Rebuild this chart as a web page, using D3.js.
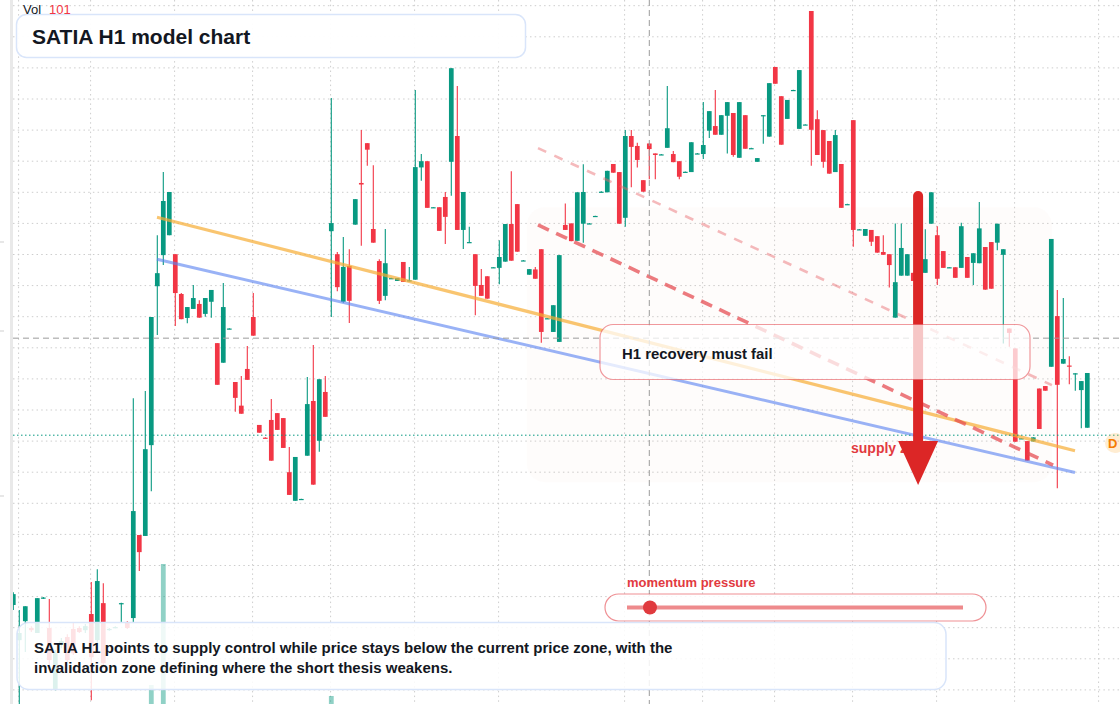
<!DOCTYPE html>
<html>
<head>
<meta charset="utf-8">
<script src="https://cdn.jsdelivr.net/npm/d3@7"></script>
<style>
  html, body { margin: 0; padding: 0; background: #fff; overflow: hidden; }
  svg { display: block; font-family: "Liberation Sans", Arial, sans-serif; }
</style>
</head>
<body>
<svg id="chart" width="1120" height="704"></svg>
<script>
// H1 candles (price units, 1 grid step = 1.00)
const opens = [90.73,89.60,90.21,89.99,89.83,90.94,89.99,88.03,89.44,89.70,89.96,89.99,89.92,90.44,89.60,90.79,89.94,90.00,90.76,90.18,
  90.31,92.98,92.95,95.87,100.98,101.98,102.62,102.01,100.73,99.96,100.25,100.41,100.09,100.48,99.15,98.52,99.61,97.90,97.14,98.32,
  99.99,96.52,96.11,96.68,96.90,96.74,95.00,94.08,94.13,95.53,97.29,96.01,97.58,102.75,102.01,100.48,101.63,102.96,104.30,105.58,
  102.82,101.79,100.67,101.23,101.15,101.76,101.15,101.19,104.80,105.00,103.51,103.52,103.85,104.98,105.81,102.79,102.38,102.01,101.02,101.30,
  101.58,101.57,101.77,102.98,103.62,101.80,101.35,101.52,102.17,99.94,99.51,99.19,102.95,103.00,102.44,102.99,102.99,103.23,104.01,104.00,
  104.91,104.65,103.18,105.81,105.49,104.39,105.57,105.25,105.21,105.43,105.23,105.00,104.65,104.65,105.24,105.23,105.98,106.13,105.85,106.46,
  106.55,105.11,106.48,105.41,104.98,106.45,105.79,108.03,107.09,106.36,107.28,106.04,106.17,109.83,106.35,106.00,105.65,104.65,104.91,103.61,
  106.32,102.80,102.60,102.79,102.59,102.08,102.01,99.97,101.32,101.32,101.41,101.63,101.41,102.99,102.62,102.11,101.58,101.59,101.57,101.92,
  101.73,101.72,102.24,102.40,102.38,101.99,99.62,98.98,96.08,96.00,95.99,97.69,97.77,98.39,100.02,98.49,98.43,98.17,97.64,96.43];
const highs = [91.14,90.57,90.69,90.05,90.95,90.99,90.92,89.28,89.67,89.79,90.15,90.05,90.12,91.47,91.88,91.43,89.99,90.05,90.80,90.21,
  97.38,92.98,97.61,99.99,102.62,104.65,104.01,102.01,100.76,100.31,101.02,100.53,100.60,100.86,99.15,101.08,99.63,97.90,98.09,99.06,
  100.76,96.52,96.12,97.35,96.90,96.74,95.81,95.49,94.15,98.06,99.09,97.99,98.09,107.03,102.08,102.56,102.17,103.78,106.00,105.58,
  104.87,101.85,102.82,101.25,101.24,101.76,101.60,107.29,105.23,105.00,103.53,103.52,104.01,107.99,107.42,104.01,102.89,102.01,101.53,101.30,
  101.60,102.46,102.98,104.68,103.62,101.82,101.53,101.60,102.17,99.96,100.37,101.98,103.64,103.00,104.00,104.90,103.01,103.25,104.03,104.69,
  104.91,104.65,106.00,106.00,105.59,104.39,105.57,105.25,105.23,107.42,105.33,105.00,104.67,105.61,105.26,106.90,106.61,107.29,106.48,106.90,
  106.55,106.90,106.48,105.43,105.10,106.48,107.51,108.03,107.09,106.97,107.30,107.93,106.19,109.83,106.64,106.00,105.65,106.00,104.91,103.63,
  106.32,102.82,102.82,102.79,102.59,102.62,102.01,103.00,103.00,102.01,101.41,101.70,102.81,104.00,102.91,102.11,101.60,101.59,103.02,101.92,
  102.04,103.69,102.24,102.40,102.99,102.17,99.62,98.98,96.10,96.00,96.12,97.69,97.77,102.50,100.86,100.60,98.73,98.18,97.93,98.19];
const lows = [90.57,87.29,89.22,89.86,89.83,90.92,88.80,87.99,89.34,88.90,89.12,89.83,89.83,87.67,89.44,88.70,89.90,89.98,90.18,89.96,
  90.18,91.82,92.95,94.39,99.41,101.66,102.62,99.70,99.92,99.79,100.25,99.97,100.00,99.97,97.81,98.52,99.60,96.94,96.88,97.97,
  99.39,96.27,96.09,95.37,96.36,95.78,94.27,94.08,94.12,95.53,94.60,95.66,96.78,99.99,100.82,100.45,99.80,102.96,102.28,104.85,
  102.38,100.41,100.53,101.22,101.15,101.12,101.14,101.19,104.37,103.50,103.50,102.76,102.34,103.89,102.79,102.18,102.38,100.05,100.67,100.58,
  101.57,101.04,101.77,101.80,102.09,101.79,101.35,101.22,99.16,99.93,99.51,99.19,102.79,102.43,102.44,102.38,102.98,103.22,104.00,104.00,
  104.63,102.99,102.89,104.16,104.80,104.02,104.42,104.42,105.20,105.43,104.97,104.42,104.64,104.65,105.23,105.07,105.75,105.85,105.85,105.25,
  105.14,105.11,105.40,105.40,104.98,105.56,105.79,107.49,105.53,106.36,107.27,106.04,106.16,104.85,105.20,104.79,104.60,104.65,103.50,103.60,
  102.25,102.79,102.60,102.27,102.06,101.99,100.94,99.97,101.32,101.32,101.15,101.30,101.41,102.99,101.02,101.57,101.57,101.25,101.57,101.25,
  101.02,101.72,100.87,100.90,102.14,99.14,99.03,95.98,96.07,95.37,95.99,96.39,97.62,98.39,94.48,98.49,97.83,97.62,96.41,96.43];
const closes = [91.08,89.83,90.69,89.92,90.95,90.97,88.96,89.18,89.57,88.96,89.18,89.86,90.05,89.05,91.50,88.86,89.96,90.02,90.79,89.99,
  93.75,92.43,95.74,99.99,101.40,103.72,104.01,100.76,99.92,100.31,100.60,99.97,100.60,100.86,97.81,100.31,99.62,97.39,96.88,97.97,
  99.39,96.27,96.10,95.37,96.36,95.78,94.27,95.49,94.14,97.19,94.60,97.99,96.78,103.01,100.95,101.60,100.51,103.78,104.25,105.37,
  102.38,100.51,101.72,101.24,101.24,101.12,101.17,104.81,105.00,103.50,103.52,102.76,103.21,107.99,102.79,104.01,102.40,100.99,100.67,100.58,
  101.59,101.92,102.98,101.80,102.09,101.81,101.53,101.22,99.51,99.95,100.37,101.98,102.79,102.43,104.00,104.01,103.00,103.24,104.02,104.69,
  104.63,102.99,105.81,105.46,105.04,104.02,105.39,105.20,105.22,106.06,104.97,104.50,104.66,105.61,105.25,105.52,106.61,105.85,106.48,106.90,
  105.20,106.90,105.40,105.42,105.10,106.48,107.51,107.49,105.53,106.97,107.29,107.93,106.18,106.01,105.20,104.98,104.60,105.84,103.50,103.62,
  102.79,102.81,102.82,102.41,102.06,101.99,101.66,101.11,102.21,102.01,101.15,101.37,101.85,104.00,101.22,101.57,101.59,101.25,102.91,101.25,
  102.04,102.84,100.87,100.90,102.99,102.17,99.48,95.98,96.09,95.37,96.12,96.39,97.62,102.50,97.81,98.64,98.40,98.18,97.93,98.19];
const volumes = [60,45,80,30,70,25,90,55,35,40,50,30,35,110,120,95,30,25,45,40,
  150,90,140,350,130,1560,120,110,70,50,60,45,40,55,90,100,30,60,55,50,
  70,40,25,80,45,60,75,70,20,90,120,80,60,240,70,85,95,60,110,40,
  70,75,90,25,30,40,35,150,50,65,20,50,60,140,130,70,35,60,45,50,
  20,55,70,90,80,20,30,35,110,25,50,100,40,45,70,75,20,20,25,45,
  35,70,110,60,45,40,50,35,20,85,35,45,20,60,20,70,55,75,50,65,
  70,90,60,20,25,45,95,50,80,45,20,95,25,150,70,60,65,70,80,25,
  130,20,30,35,45,30,55,80,60,50,40,45,60,75,70,50,20,40,75,55,
  50,85,80,85,45,95,40,120,20,55,25,75,30,140,150,60,40,45,70,101];

// grid: price levels and session-start bars
const gridPrices = [88,89,90,91,92,93,94,95,96,97,98,99,100,101,102,103,104,105,106,107,108,109,110];
const sessionBars = [1,13,27,40,53,67,81,102,115,127,140,154,167,181];

// drawings (bar index, price)
const channelUpper = [[23.95, 103.20], [176.95, 95.69]];
const channelLower = [[23.95, 101.85], [176.95, 94.99]];
const rejectionFaint = [[87.45, 105.42], [173.1, 97.80]];
const rejectionMain = [[87.45, 102.95], [173.3, 95.23]];
const supplyZone = { from: 85.6, to: 173.1, top: 103.52, bottom: 94.68 };
const supplyArrow = { bar: 150.8, from: 103.88, neck: 96.00, tip: 94.59 };
const crosshair = { bar: 106, price: 99.31 };
const lastPriceLine = 96.19;
const lastVolume = 101;

const UP = '#089981';
const DOWN = '#f23645';

const svg = d3.select('#chart');
const width = 1120;
const height = 704;
const paneLeft = 13;

const candles = opens.map((o, i) => ({
  i, o, h: highs[i], l: lows[i], c: closes[i], v: volumes[i]
}));

const x = d3.scaleLinear().domain([0, 179]).range([13.3, 1087.3]);
const y = d3.scaleLinear().domain([88, 110]).range([689.9, 5.7]);
const vy = d3.scaleLinear().domain([0, 1560]).range([720, 564]);

svg.append('defs')
  .append('clipPath')
  .attr('id', 'pane')
  .append('rect')
  .attr('x', paneLeft)
  .attr('y', 0)
  .attr('width', width - paneLeft)
  .attr('height', height);

// left scale edge
svg.append('rect')
  .attr('x', 10).attr('y', 0)
  .attr('width', 3).attr('height', height)
  .attr('fill', '#e9e9e9');
svg.append('g')
  .selectAll('line')
  .data([242, 331, 496])
  .join('line')
  .attr('x1', 0).attr('x2', 4)
  .attr('y1', d => d).attr('y2', d => d)
  .attr('stroke', '#cfcfcf');

const pane = svg.append('g').attr('clip-path', 'url(#pane)');

// grid
pane.append('g')
  .selectAll('line')
  .data(gridPrices)
  .join('line')
  .attr('x1', paneLeft).attr('x2', width)
  .attr('y1', d => y(d)).attr('y2', d => y(d))
  .attr('stroke', '#cdcdcd')
  .attr('stroke-dasharray', '1.5,3.2');
pane.append('g')
  .selectAll('line')
  .data(sessionBars)
  .join('line')
  .attr('x1', d => x(d) - 0.7).attr('x2', d => x(d) - 0.7)
  .attr('y1', 0).attr('y2', height)
  .attr('stroke', '#cdcdcd')
  .attr('stroke-dasharray', '1.5,3.2');

// supply zone
pane.append('rect')
  .attr('x', x(supplyZone.from))
  .attr('y', y(supplyZone.top))
  .attr('width', x(supplyZone.to) - x(supplyZone.from))
  .attr('height', y(supplyZone.bottom) - y(supplyZone.top))
  .attr('rx', 18)
  .attr('fill', 'rgba(240, 200, 170, 0.05)');

// volume
pane.append('g')
  .selectAll('rect')
  .data(candles)
  .join('rect')
  .attr('x', d => x(d.i) - 2.4)
  .attr('width', 4.8)
  .attr('y', d => vy(d.v))
  .attr('height', d => vy(0) - vy(d.v))
  .attr('fill', d => (d.c >= d.o ? UP : DOWN))
  .attr('opacity', 0.45);

// candles
const candle = pane.append('g')
  .selectAll('g')
  .data(candles)
  .join('g')
  .attr('fill', d => (d.c >= d.o ? UP : DOWN))
  .attr('stroke', d => (d.c >= d.o ? UP : DOWN));
candle.append('line')
  .attr('x1', d => x(d.i)).attr('x2', d => x(d.i))
  .attr('y1', d => y(d.h)).attr('y2', d => y(d.l))
  .attr('stroke-width', 1.1);
candle.append('rect')
  .attr('x', d => x(d.i) - 2.35)
  .attr('width', 4.7)
  .attr('y', d => y(Math.max(d.o, d.c)))
  .attr('height', d => Math.max(1.2, Math.abs(y(d.o) - y(d.c))))
  .attr('stroke', 'none');

// trend drawings
const line = d3.line(d => x(d[0]), d => y(d[1]));
pane.append('path')
  .attr('d', line(channelUpper))
  .attr('fill', 'none')
  .attr('stroke', '#f6ac33')
  .attr('stroke-opacity', 0.7)
  .attr('stroke-width', 3.2);
pane.append('path')
  .attr('d', line(channelLower))
  .attr('fill', 'none')
  .attr('stroke', '#5b82f0')
  .attr('stroke-opacity', 0.62)
  .attr('stroke-width', 3);
pane.append('path')
  .attr('d', line(rejectionFaint))
  .attr('fill', 'none')
  .attr('stroke', '#e8676b')
  .attr('stroke-opacity', 0.45)
  .attr('stroke-width', 2.6)
  .attr('stroke-dasharray', '9,9');
pane.append('path')
  .attr('d', line(rejectionMain))
  .attr('fill', 'none')
  .attr('stroke', '#e5484d')
  .attr('stroke-opacity', 0.72)
  .attr('stroke-width', 3.6)
  .attr('stroke-dasharray', '12,8');

// crosshair and last price line
pane.append('line')
  .attr('x1', paneLeft).attr('x2', width)
  .attr('y1', y(crosshair.price)).attr('y2', y(crosshair.price))
  .attr('stroke', '#9b9b9b')
  .attr('stroke-dasharray', '6,4');
pane.append('line')
  .attr('x1', x(crosshair.bar)).attr('x2', x(crosshair.bar))
  .attr('y1', 0).attr('y2', height)
  .attr('stroke', '#9b9b9b')
  .attr('stroke-dasharray', '6,4');
pane.append('line')
  .attr('x1', paneLeft).attr('x2', width)
  .attr('y1', y(lastPriceLine)).attr('y2', y(lastPriceLine))
  .attr('stroke', UP)
  .attr('stroke-dasharray', '1.5,2.5');

// supply label and arrow
svg.append('text')
  .attr('x', 851).attr('y', y(lastPriceLine) + 18)
  .attr('fill', '#e23a3f')
  .attr('font-size', 14)
  .attr('font-weight', 700)
  .text('supply zone');
const ax = x(supplyArrow.bar);
svg.append('line')
  .attr('x1', ax).attr('x2', ax)
  .attr('y1', y(supplyArrow.from)).attr('y2', y(supplyArrow.neck) + 4)
  .attr('stroke', '#dc2626')
  .attr('stroke-width', 10)
  .attr('stroke-linecap', 'round');
svg.append('path')
  .attr('d', `M${ax - 20},${y(supplyArrow.neck)} L${ax + 20},${y(supplyArrow.neck)} L${ax},${y(supplyArrow.tip)} Z`)
  .attr('fill', '#dc2626');

// callout over the drawings
svg.append('rect')
  .attr('x', 600).attr('y', 324.5)
  .attr('width', 430).attr('height', 55)
  .attr('rx', 13)
  .attr('fill', 'rgba(255,255,255,0.74)')
  .attr('stroke', 'rgba(228, 70, 76, 0.55)')
  .attr('stroke-width', 1.2);
svg.append('text')
  .attr('x', 622).attr('y', 359)
  .attr('fill', '#131722')
  .attr('font-size', 14.9)
  .attr('font-weight', 700)
  .text('H1 recovery must fail');

// last price badge
svg.append('circle')
  .attr('cx', 1115).attr('cy', 443)
  .attr('r', 10)
  .attr('fill', 'rgba(255, 183, 77, 0.25)');
svg.append('text')
  .attr('x', 1108).attr('y', 448)
  .attr('fill', '#f57c00')
  .attr('font-size', 13)
  .attr('font-weight', 700)
  .text('D');

// momentum pressure gauge
svg.append('text')
  .attr('x', 627).attr('y', 587)
  .attr('fill', '#e23a3f')
  .attr('font-size', 13)
  .attr('font-weight', 700)
  .text('momentum pressure');
svg.append('rect')
  .attr('x', 605).attr('y', 594)
  .attr('width', 381).attr('height', 27)
  .attr('rx', 13.5)
  .attr('fill', 'rgba(255,255,255,0.85)')
  .attr('stroke', 'rgba(228, 70, 76, 0.6)')
  .attr('stroke-width', 1.2);
svg.append('line')
  .attr('x1', 627).attr('x2', 963)
  .attr('y1', 607.5).attr('y2', 607.5)
  .attr('stroke', '#ee8a8c')
  .attr('stroke-width', 4);
svg.append('circle')
  .attr('cx', 650).attr('cy', 607.5)
  .attr('r', 7)
  .attr('fill', '#e03a3e');

// caption
svg.append('rect')
  .attr('x', 17).attr('y', 622.5)
  .attr('width', 929).attr('height', 67)
  .attr('rx', 12)
  .attr('fill', 'rgba(255,255,255,0.86)')
  .attr('stroke', '#d9e5fa')
  .attr('stroke-width', 1.5);
const caption = svg.append('text')
  .attr('fill', '#131722')
  .attr('font-size', 15)
  .attr('font-weight', 700);
caption.append('tspan')
  .attr('x', 34).attr('y', 653)
  .text('SATIA H1 points to supply control while price stays below the current price zone, with the');
caption.append('tspan')
  .attr('x', 34).attr('y', 673)
  .text('invalidation zone defining where the short thesis weakens.');

// title
svg.append('rect')
  .attr('x', 16.5).attr('y', 14.5)
  .attr('width', 509).attr('height', 43)
  .attr('rx', 10)
  .attr('fill', 'rgba(255,255,255,0.95)')
  .attr('stroke', '#d9e5fa')
  .attr('stroke-width', 1.5);
svg.append('text')
  .attr('x', 32).attr('y', 43.5)
  .attr('fill', '#131722')
  .attr('font-size', 21)
  .attr('font-weight', 700)
  .text('SATIA H1 model chart');

// volume legend
const legend = svg.append('text')
  .attr('x', 23).attr('y', 13.5)
  .attr('font-size', 13);
legend.append('tspan').attr('fill', '#131722').text('Vol');
legend.append('tspan').attr('x', 49).attr('fill', DOWN).text(lastVolume);
</script>
</body>
</html>
